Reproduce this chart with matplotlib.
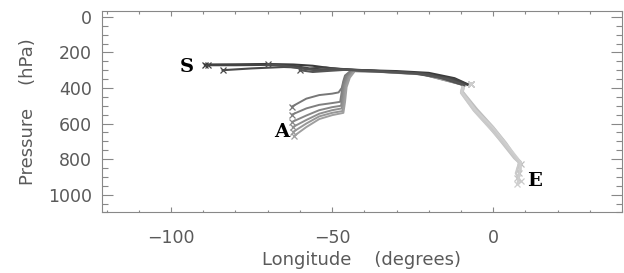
import matplotlib
matplotlib.use("Agg")
import matplotlib.pyplot as plt
from matplotlib.ticker import MultipleLocator

# ---- data: trajectories (longitude, pressure) ----
# dark group (S branch)
s_lon = [
    [-89.5, -80, -70, -62, -56, -50, -40, -30, -20, -12, -8],
    [-88.5, -80, -70, -62, -57, -52, -45, -35, -22, -12, -8],
    [-84, -75, -65, -60, -55, -48, -38, -25, -14, -9],
    [-70, -65, -60, -55, -50, -42, -30, -20, -10],
    [-60, -56, -52, -46, -36, -24, -14, -9],
]
s_p = [
    [268, 267, 265, 268, 275, 290, 300, 305, 315, 345, 378],
    [272, 272, 270, 275, 290, 285, 298, 305, 318, 350, 382],
    [300, 290, 282, 285, 300, 295, 302, 315, 345, 380],
    [266, 275, 290, 300, 292, 300, 310, 322, 380],
    [300, 310, 305, 298, 308, 320, 350, 384],
]
# medium group (A branch)
a_lon = [
    [-62.5, -58, -54, -50, -48, -47, -46.5, -46, -44, -35, -22, -9],
    [-62.5, -58, -54, -50, -47.5, -47, -46.5, -45.5, -44, -35, -22, -9],
    [-62.3, -58, -54, -50, -47.2, -46.8, -46.3, -45.3, -43.5, -35, -22, -9],
    [-62.2, -58, -54, -50, -47, -46.5, -46, -45, -43.5, -35, -22, -9],
    [-62.0, -58, -54, -50, -46.8, -46.3, -45.8, -44.8, -43, -35, -22, -9],
    [-61.8, -58, -54, -50, -46.5, -46, -45.5, -44.5, -43, -35, -22, -9],
]
a_p = [
    [505, 460, 440, 432, 425, 400, 360, 330, 300, 305, 318, 380],
    [550, 515, 495, 485, 478, 420, 370, 330, 302, 306, 320, 381],
    [590, 555, 525, 508, 500, 440, 380, 335, 303, 307, 321, 382],
    [620, 580, 545, 525, 515, 455, 385, 338, 304, 308, 322, 383],
    [646, 600, 560, 540, 530, 470, 390, 340, 305, 309, 323, 384],
    [670, 620, 575, 553, 540, 480, 395, 342, 306, 310, 324, 385],
]
# light group (E branch)
e_lon = [
    [-7, -9, -9.5, -5, 0, 4, 7, 8.5, 8.0, 8.5],
    [-7, -9.5, -10, -6, -1, 3, 6.5, 8.0, 7.5, 8.0],
    [-7, -9, -9.5, -5.5, -0.5, 3.5, 7, 8.5, 8.5, 7.5],
    [-7, -9.5, -10, -6, -1, 3.5, 7, 8.0, 7.0, 8.5],
    [-7, -9, -9.8, -5.5, 0, 4, 7.5, 8.5, 8.0, 7.5],
]
e_p = [
    [375, 385, 420, 520, 620, 710, 790, 815, 840, 830],
    [375, 388, 425, 525, 625, 715, 795, 820, 860, 880],
    [375, 386, 422, 522, 622, 712, 792, 818, 870, 905],
    [375, 390, 428, 528, 628, 718, 798, 822, 880, 925],
    [375, 387, 424, 524, 624, 714, 794, 819, 900, 940],
]

s_colors = ["#3a3a3a", "#444444", "#4a4a4a", "#505050", "#555555"]
a_colors = ["#777777", "#7f7f7f", "#878787", "#8f8f8f", "#979797", "#9f9f9f"]
e_colors = ["#bdbdbd", "#c2c2c2", "#c6c6c6", "#cacaca", "#cecece"]

labels = ["S", "A", "E"]
label_lon = [-95, -65.5, 12.8]
label_p = [282, 645, 925]

fig = plt.figure(figsize=(6.24, 2.73), dpi=100)
ax = fig.add_axes([0.163, 0.222, 0.834, 0.739])

for lo, pp, c in zip(e_lon, e_p, e_colors):
    ax.plot(lo, pp, color=c, lw=1.6)
    ax.plot([lo[0], lo[-1]], [pp[0], pp[-1]], ls="none", marker="x", ms=5, mew=0.9, color=c)
for lo, pp, c in zip(a_lon, a_p, a_colors):
    ax.plot(lo, pp, color=c, lw=1.4)
    ax.plot([lo[0]], [pp[0]], ls="none", marker="x", ms=5, mew=0.9, color=c)
for lo, pp, c in zip(s_lon, s_p, s_colors):
    ax.plot(lo, pp, color=c, lw=1.5)
    ax.plot([lo[0]], [pp[0]], ls="none", marker="x", ms=5, mew=0.9, color=c)

for t, lo, pp in zip(labels, label_lon, label_p):
    ax.text(lo, pp, t, family="DejaVu Serif", fontweight="bold", fontsize=14,
            ha="center", va="center", color="black")

ax.set_xlim(-121.5, 40)
ax.set_ylim(1100, -35)
ax.xaxis.set_major_locator(MultipleLocator(50))
ax.xaxis.set_minor_locator(MultipleLocator(10))
ax.yaxis.set_major_locator(MultipleLocator(200))
ax.yaxis.set_minor_locator(MultipleLocator(50))

txtc = "#5a5a5a"
for sp in ax.spines.values():
    sp.set_color("#888888")
    sp.set_linewidth(0.8)
ax.tick_params(axis="both", which="both", direction="in", top=True, right=True,
               colors="#888888", labelcolor=txtc, labelsize=12.5)
ax.tick_params(axis="x", which="major", length=3.5, width=0.8, pad=12)
ax.tick_params(axis="x", which="minor", length=1.8, width=0.8)
ax.tick_params(axis="y", which="major", length=8, width=0.8, pad=7)
ax.tick_params(axis="y", which="minor", length=4, width=0.8)

ax.set_xlabel("Longitude    (degrees)", fontsize=13, color=txtc, labelpad=3)
ax.set_ylabel("Pressure    (hPa)", fontsize=13, color=txtc, labelpad=8)

fig.savefig("out.png", dpi=100)
